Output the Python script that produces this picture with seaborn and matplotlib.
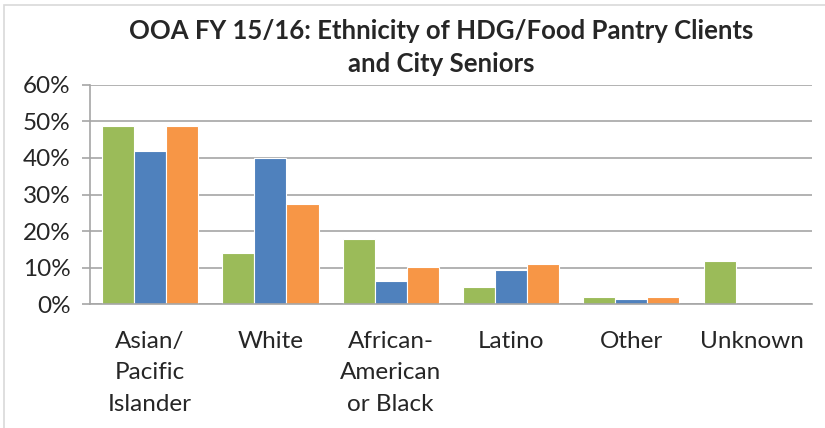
import numpy as np
import pandas as pd
import seaborn as sns
import matplotlib.pyplot as plt
from matplotlib.patches import Rectangle

# values (percent)
categories = ['Asian/\nPacific\nIslander', 'White', 'African-\nAmerican\nor Black', 'Latino', 'Other', 'Unknown']
series_names = ['HDG/Food Pantry', 'Clients', 'City Seniors']
hdg_pantry = [48.8, 13.9, 17.9, 4.8, 2.0, 11.9]
clients = [41.9, 40.0, 6.4, 9.5, 1.5, 0.0]
city_seniors = [48.8, 27.4, 10.1, 10.9, 2.0, 0.0]
colors = ['#9BBB59', '#4F81BD', '#F79646']

rows = []
for name, vals in zip(series_names, [hdg_pantry, clients, city_seniors]):
    for cat, v in zip(categories, vals):
        rows.append({'Ethnicity': cat, 'Series': name, 'Pct': v})
df = pd.DataFrame(rows)

sns.set_style('white')
plt.rcParams['font.family'] = ['Lato', 'DejaVu Sans']

fig = plt.figure(figsize=(8.25, 4.28), dpi=100)
ax = fig.add_axes([0.109, 0.289, 0.875, 0.513])

sns.barplot(data=df, x='Ethnicity', y='Pct', hue='Series', palette=colors,
            order=categories, hue_order=series_names, width=0.8, saturation=1,
            edgecolor='white', linewidth=0.8, legend=False, ax=ax)

ax.set_ylim(0, 60)
ax.set_xlim(-0.5, len(categories) - 0.5)
ax.set_yticks(np.arange(0, 61, 10))
ax.set_yticklabels([f'{t}%' for t in range(0, 61, 10)], fontsize=17.5)
ax.yaxis.grid(True, color='#A6A6A6', linewidth=1.2)
ax.set_axisbelow(True)

ax.set_xticks(range(len(categories)))
ax.set_xticklabels(categories, fontsize=17.5, linespacing=1.62, va='top')
ax.tick_params(axis='x', which='major', length=0, pad=19)
ax.set_xticks(np.arange(-0.5, len(categories), 1), minor=True)
ax.tick_params(axis='x', which='minor', length=8, color='#A6A6A6', width=1.2)
ax.tick_params(axis='y', length=6, color='#A6A6A6', width=1.2, pad=8, left=True)

for s in ['top', 'right']:
    ax.spines[s].set_visible(False)
for s in ['left', 'bottom']:
    ax.spines[s].set_color('#A6A6A6')
    ax.spines[s].set_linewidth(1.2)

ax.set_xlabel('')
ax.set_ylabel('')
fig.text(0.535, 0.89, 'OOA FY 15/16: Ethnicity of HDG/Food Pantry Clients\nand City Seniors',
         ha='center', va='center', fontsize=18.5, fontweight='bold', linespacing=1.45)

fig.patches.append(Rectangle((0.005, -0.1), 1.2, 1.088, transform=fig.transFigure,
                             fill=False, edgecolor='#D9D9D9', linewidth=1.2))

fig.savefig('out.png', dpi=100)
